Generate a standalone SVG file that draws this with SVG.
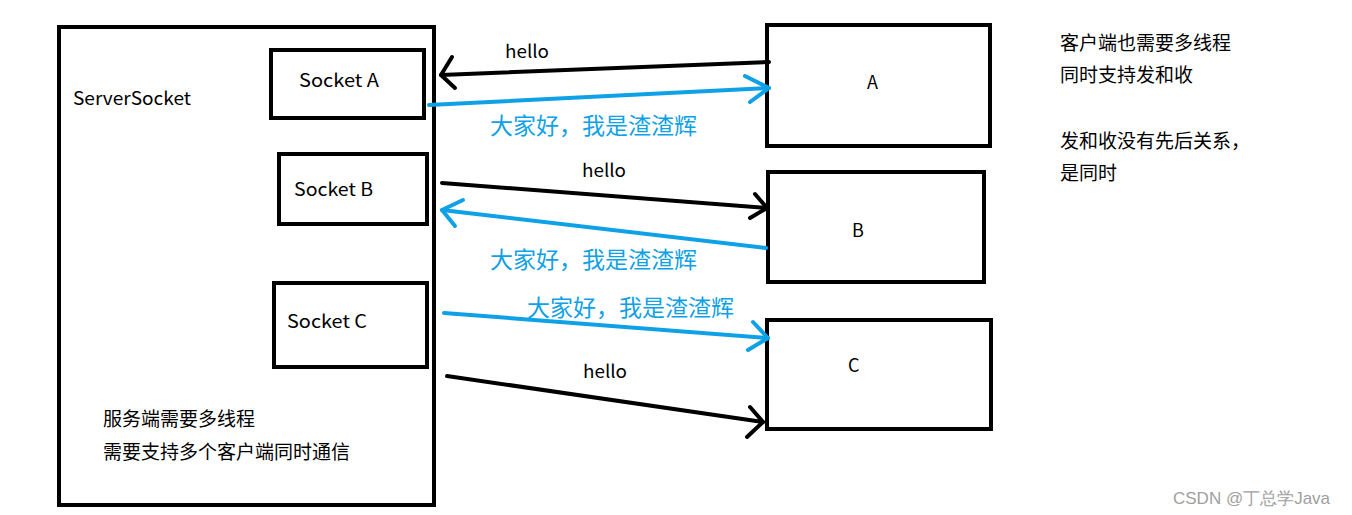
<svg xmlns="http://www.w3.org/2000/svg" width="1352" height="515" viewBox="0 0 1352 515">
<style>
.box{fill:none;stroke:#000;stroke-width:4}
.lbl{font-family:"Noto Sans CJK SC","Noto Sans",sans-serif;font-size:18px;fill:#000}
.cn{font-family:"Noto Sans CJK SC",sans-serif;font-size:19px;fill:#000}
.bt{font-family:"Noto Sans CJK SC",sans-serif;font-size:23px;fill:#0ea1e6}
.k{fill:none;stroke:#000;stroke-width:4;stroke-linecap:round;stroke-linejoin:round}
.b{fill:none;stroke:#0ea1e6;stroke-width:4;stroke-linecap:round;stroke-linejoin:round}
.wm{font-family:"Liberation Sans",Arial,sans-serif;font-size:17px;fill:#a0a0a0}
</style>
<rect width="1352" height="515" fill="#fff"/>
<g id="server">
<rect class="box" x="59" y="27" width="375" height="478"/>
<text class="lbl" x="73" y="105" textLength="118" lengthAdjust="spacingAndGlyphs">ServerSocket</text>
<text class="cn" x="103" y="426">服务端需要多线程</text>
<text class="cn" x="103" y="459">需要支持多个客户端同时通信</text>
</g>
<g id="socketA">
<rect class="box" x="271" y="50" width="153" height="68"/>
<text class="lbl" x="299" y="87" textLength="80" lengthAdjust="spacingAndGlyphs">Socket A</text>
</g>
<g id="socketB">
<rect class="box" x="279" y="154" width="148" height="70"/>
<text class="lbl" x="294" y="196" textLength="79" lengthAdjust="spacingAndGlyphs">Socket B</text>
</g>
<g id="socketC">
<rect class="box" x="274" y="283" width="153" height="84"/>
<text class="lbl" x="287" y="328" textLength="80" lengthAdjust="spacingAndGlyphs">Socket C</text>
</g>
<g id="clientA">
<rect class="box" x="767" y="25" width="223" height="121"/>
<text class="lbl" x="867" y="89">A</text>
</g>
<g id="clientB">
<rect class="box" x="768" y="172" width="216" height="110"/>
<text class="lbl" x="852" y="237">B</text>
</g>
<g id="clientC">
<rect class="box" x="767" y="320" width="224" height="109"/>
<text class="lbl" x="848" y="372">C</text>
</g>
<g id="connectors">
<line class="k" x1="769" y1="62" x2="441" y2="75"/>
<polyline class="k" points="452,57 441,75 455,88"/>
<line class="b" x1="429" y1="105" x2="769" y2="88"/>
<polyline class="b" points="745,76 769,88 750,102"/>
<line class="k" x1="442" y1="183" x2="767" y2="208"/>
<polyline class="k" points="755,194 767,208 750,218"/>
<line class="b" x1="766" y1="248" x2="442" y2="210"/>
<polyline class="b" points="463,200 442,210 455,226"/>
<line class="b" x1="444" y1="313" x2="768" y2="338"/>
<polyline class="b" points="753,322 768,338 748,350"/>
<line class="k" x1="447" y1="376" x2="763" y2="422"/>
<polyline class="k" points="750,407 763,422 747,437"/>
<text class="lbl" x="505" y="58" textLength="44" lengthAdjust="spacingAndGlyphs">hello</text>
<text class="lbl" x="582" y="177" textLength="44" lengthAdjust="spacingAndGlyphs">hello</text>
<text class="lbl" x="583" y="378" textLength="44" lengthAdjust="spacingAndGlyphs">hello</text>
<text class="bt" x="490" y="134">大家好，我是渣渣辉</text>
<text class="bt" x="490" y="268">大家好，我是渣渣辉</text>
<text class="bt" x="527" y="316">大家好，我是渣渣辉</text>
</g>
<g id="notes">
<text class="cn" x="1060" y="50">客户端也需要多线程</text>
<text class="cn" x="1060" y="82">同时支持发和收</text>
<text class="cn" x="1060" y="148">发和收没有先后关系，</text>
<text class="cn" x="1060" y="180">是同时</text>
</g>
<text class="wm" x="1173" y="504">CSDN @丁总学Java</text>
</svg>
